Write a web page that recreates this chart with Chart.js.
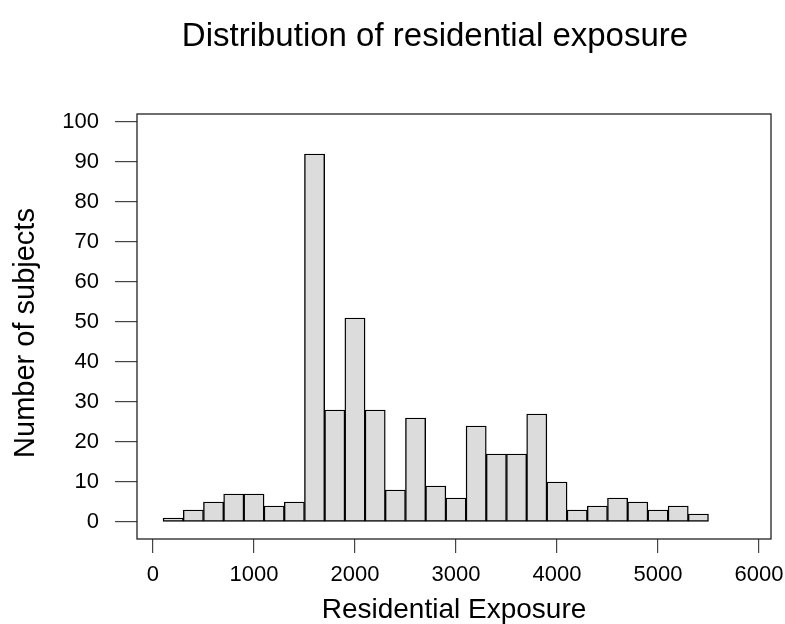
<!DOCTYPE html>
<html>
<head>
<meta charset="utf-8">
<title>Distribution of residential exposure</title>
<script src="https://cdn.jsdelivr.net/npm/chart.js@4"></script>
<style>
  html, body { margin: 0; padding: 0; background: #fff; overflow: hidden; }
  #hist { display: block; }
</style>
</head>
<body>
<canvas id="hist" width="785" height="624"></canvas>
<script>
// histogram bins (200 wide), bin centres and counts
const binCenters = [200, 400, 600, 800, 1000, 1200, 1400, 1600, 1800, 2000, 2200, 2400, 2600, 2800,
  3000, 3200, 3400, 3600, 3800, 4000, 4200, 4400, 4600, 4800, 5000, 5200, 5400];
const counts = [1, 3, 5, 7, 7, 4, 5, 92, 28, 51, 28, 8, 26, 9,
  6, 24, 17, 17, 27, 10, 3, 4, 6, 5, 3, 4, 2];
const xTicks = [0, 1000, 2000, 3000, 4000, 5000, 6000];
const yTicks = [0, 10, 20, 30, 40, 50, 60, 70, 80, 90, 100];

const FONT = "'Liberation Sans', Arial, Helvetica, sans-serif";

// box around plot area + free-standing titles
const frame = {
  id: "frame",
  afterDatasetsDraw(chart) {
    const { ctx, chartArea: a } = chart;
    ctx.save();
    ctx.strokeStyle = "#222";
    ctx.lineWidth = 1.3;
    ctx.strokeRect(a.left, a.top, a.right - a.left, a.bottom - a.top);

    ctx.fillStyle = "#000";
    ctx.textAlign = "center";
    ctx.textBaseline = "alphabetic";
    ctx.font = `33px ${FONT}`;
    ctx.fillText("Distribution of residential exposure", 435, 46);

    ctx.font = `28px ${FONT}`;
    ctx.fillText("Residential Exposure", (a.left + a.right) / 2, 618);

    ctx.font = `29px ${FONT}`;
    ctx.translate(34, 333);
    ctx.rotate(-Math.PI / 2);
    ctx.fillText("Number of subjects", 0, 0);
    ctx.restore();
  }
};

new Chart(document.getElementById("hist"), {
  type: "bar",
  data: {
    datasets: [{
      data: binCenters.map((c, i) => ({ x: c, y: counts[i] })),
      backgroundColor: "#dcdcdc",
      borderColor: "#000",
      borderWidth: 1.4,
      borderSkipped: false,
      barPercentage: 1,
      categoryPercentage: 1
    }]
  },
  options: {
    responsive: false,
    animation: false,
    devicePixelRatio: 1,
    layout: { padding: { left: 0, top: 114, right: 14, bottom: 0 } },
    plugins: {
      legend: { display: false },
      tooltip: { enabled: false }
    },
    scales: {
      x: {
        type: "linear",
        offset: false,
        min: -158,
        max: 6119,
        afterFit: (s) => { s.height = 85; s.paddingLeft = 0; s.paddingRight = 0; },
        afterBuildTicks: (s) => { s.ticks = xTicks.map(v => ({ value: v })); },
        border: { display: false },
        grid: { offset: false, drawOnChartArea: false, drawTicks: true, tickLength: 14, color: "#444", lineWidth: 1.2 },
        ticks: {
          color: "#000", padding: 9, maxRotation: 0, autoSkip: false,
          font: { family: FONT, size: 22 },
          callback: (v) => String(v)
        }
      },
      y: {
        min: -4.25,
        max: 102,
        afterFit: (s) => { s.width = 137; s.paddingTop = 0; s.paddingBottom = 0; },
        afterBuildTicks: (s) => { s.ticks = yTicks.map(v => ({ value: v })); },
        border: { display: false },
        grid: { drawOnChartArea: false, drawTicks: true, tickLength: 22, color: "#444", lineWidth: 1.2 },
        ticks: { color: "#000", padding: 16, autoSkip: false, font: { family: FONT, size: 22 } }
      }
    }
  },
  plugins: [frame]
});
</script>
</body>
</html>
